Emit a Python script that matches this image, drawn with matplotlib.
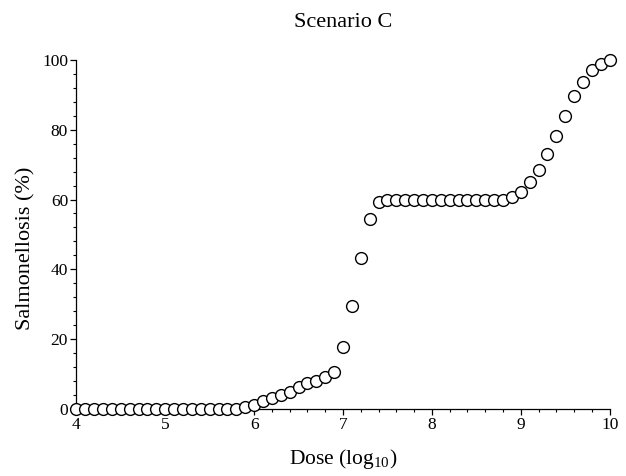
import numpy as np
import matplotlib.pyplot as plt

plt.rcParams["font.family"] = ["Liberation Serif", "DejaVu Serif"]
plt.rcParams["mathtext.fontset"] = "custom"
plt.rcParams["mathtext.rm"] = "Liberation Serif"

# dose in log10, 4.0 .. 10.0 step 0.1
dose = np.round(np.arange(4.0, 10.01, 0.1), 1)

# salmonellosis (%)
low = [0.0] * 19  # 4.0 .. 5.8
rise = [0.6, 1.2, 2.3, 3.1, 4.0, 4.9, 6.2, 7.4, 8.1, 9.0, 10.7,
        17.7, 29.6, 43.2, 54.4, 59.4]  # 5.9 .. 7.4
plateau = [60.0] * 14  # 7.5 .. 8.8
top = [60.6, 62.2, 64.9, 68.5, 73.0, 78.1, 84.0, 89.6, 93.8, 97.1,
       98.9, 100.0]  # 8.9 .. 10.0
illness = low + rise + plateau + top

fig = plt.figure(figsize=(6.26, 4.76), dpi=100)
ax = fig.add_axes([0.122, 0.141, 0.852, 0.733])

ax.plot(dose, illness, "o", ms=8.5, mfc="white", mec="black", mew=1.0,
        clip_on=False, zorder=3)

ax.set_xlim(4, 10)
ax.set_ylim(0, 100)
ax.set_xticks(range(4, 11))
ax.set_xticks(np.arange(4, 10.01, 0.2), minor=True)
ax.set_yticks(range(0, 101, 20))
ax.set_yticks(range(0, 101, 4), minor=True)

for s in ["top", "right"]:
    ax.spines[s].set_visible(False)
for s in ["left", "bottom"]:
    ax.spines[s].set_linewidth(0.9)

ax.tick_params(which="major", length=4, width=0.9, labelsize=12.5, pad=2)
ax.tick_params(which="minor", length=2.5, width=0.8)

ax.set_title("Scenario C", fontsize=16, pad=24)
ax.set_xlabel("Dose (log$_{10}$)", fontsize=15.5)
ax.set_ylabel("Salmonellosis (%)", fontsize=16)
ax.xaxis.set_label_coords(0.5, -0.11, transform=ax.transAxes)
ax.yaxis.set_label_coords(-0.076, 0.46, transform=ax.transAxes)

fig.savefig("out.png", dpi=100)
